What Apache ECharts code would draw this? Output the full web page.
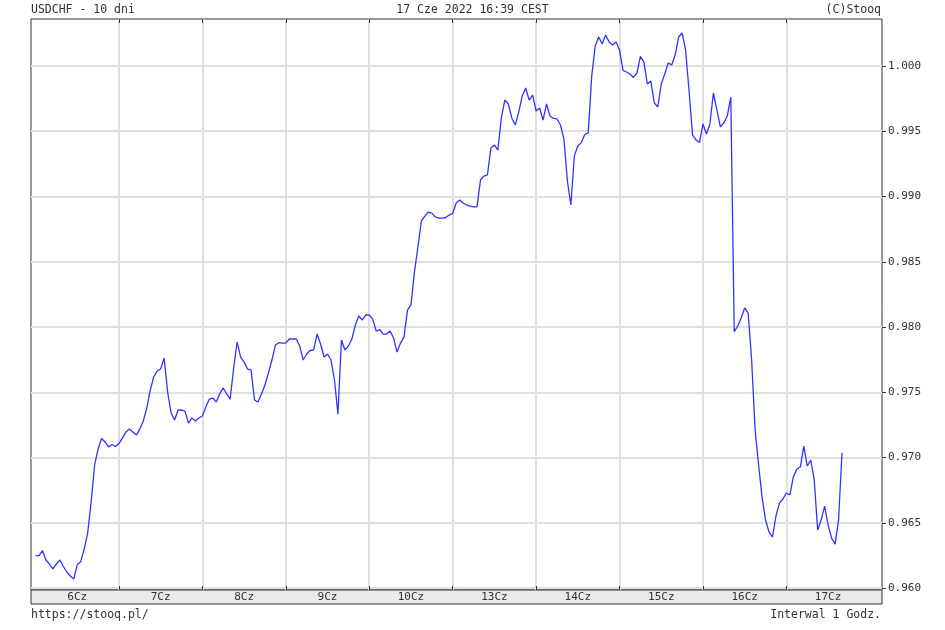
<!DOCTYPE html>
<html>
<head>
<meta charset="utf-8">
<script src="https://cdn.jsdelivr.net/npm/echarts@6/dist/echarts.min.js"></script>
<style>
html,body{margin:0;padding:0;background:#fff;}
#chart{width:945px;height:630px;}
</style>
</head>
<body>
<div id="chart"></div>
<script>
// ---- data ----
const dayLabels = ['6Cz','7Cz','8Cz','9Cz','10Cz','13Cz','14Cz','15Cz','16Cz','17Cz'];
// hourly USDCHF closes, one array per trading day (00:00 .. 23:00)
const day06 = [0.96248,0.96248,0.96286,0.96215,0.96184,0.96146,0.96184,0.96215,0.96165,0.96123,0.96092,0.96069,0.96180,0.96202,0.96299,0.96421,0.96659,0.96943,0.97065,0.97146,0.97119,0.97081,0.97100,0.97084];
const day07 = [0.97107,0.97149,0.97195,0.97218,0.97195,0.97172,0.97218,0.97280,0.97379,0.97517,0.97617,0.97663,0.97678,0.97762,0.97502,0.97341,0.97287,0.97364,0.97364,0.97356,0.97264,0.97303,0.97280,0.97303];
const day08 = [0.97318,0.97387,0.97448,0.97456,0.97425,0.97490,0.97533,0.97487,0.97448,0.97686,0.97885,0.97770,0.97732,0.97678,0.97671,0.97441,0.97425,0.97487,0.97556,0.97648,0.97747,0.97862,0.97880,0.97877];
const day09 = [0.97877,0.97908,0.97908,0.97908,0.97854,0.97747,0.97793,0.97820,0.97824,0.97946,0.97870,0.97770,0.97793,0.97747,0.97594,0.97333,0.97900,0.97824,0.97854,0.97908,0.98015,0.98084,0.98054,0.98092];
const day10 = [0.98092,0.98061,0.97969,0.97981,0.97946,0.97946,0.97969,0.97916,0.97808,0.97877,0.97923,0.98130,0.98169,0.98421,0.98613,0.98812,0.98850,0.98881,0.98873,0.98843,0.98835,0.98835,0.98839,0.98858];
const day13 = [0.98870,0.98950,0.98973,0.98950,0.98935,0.98927,0.98920,0.98920,0.99127,0.99157,0.99165,0.99372,0.99395,0.99356,0.99602,0.99739,0.99709,0.99602,0.99548,0.99647,0.99770,0.99831,0.99739,0.99777];
const day14 = [0.99655,0.99678,0.99586,0.99709,0.99617,0.99598,0.99594,0.99548,0.99441,0.99119,0.98935,0.99311,0.99387,0.99413,0.99475,0.99487,0.99924,1.00153,1.00222,1.00169,1.00238,1.00184,1.00161,1.00184];
const day15 = [1.00123,0.99966,0.99954,0.99939,0.99912,0.99946,1.00073,1.00031,0.99862,0.99885,0.99717,0.99686,0.99862,0.99939,1.00023,1.00008,1.00084,1.00222,1.00253,1.00123,0.99808,0.99471,0.99433,0.99414];
const day16 = [0.99556,0.99479,0.99556,0.99793,0.99663,0.99533,0.99563,0.99617,0.99762,0.97964,0.98008,0.98069,0.98146,0.98107,0.97747,0.97211,0.96943,0.96697,0.96521,0.96429,0.96391,0.96552,0.96651,0.96682];
const day17 = [0.96728,0.96713,0.96851,0.96912,0.96927,0.97088,0.96935,0.96981,0.96828,0.96444,0.96521,0.96628,0.96483,0.96383,0.96337,0.96521,0.97037];
const yTickValues = [0.960,0.965,0.970,0.975,0.980,0.985,0.990,0.995,1.000];
const dayBoundaryHours = [24,48,72,96,120,144,168,192,216];
const dayCenterHours = [12,36,60,84,108,132,156,180,204,228];

// ---- build ----
const closes = [].concat(day06,day07,day08,day09,day10,day13,day14,day15,day16,day17);
const seriesData = closes.map((v,i)=>[i,v]);

const X_MIN = -1.3, X_MAX = 243.5;
const Y_MIN = 0.95985, Y_MAX = 1.0036;
const MONO = '"DejaVu Sans Mono", "Liberation Mono", monospace';
const GRID_COLOR = '#e0e0e0';
const INK = '#333333';

const chart = echarts.init(document.getElementById('chart'), null, {renderer:'canvas'});
const txt = ()=>({fontFamily:MONO,fontSize:11.5,fontWeight:'normal',color:INK});
chart.setOption({
  animation:false,
  backgroundColor:'#ffffff',
  title:[
    {text:'USDCHF - 10 dni', left:31, top:4, padding:0, textStyle:txt()},
    {text:'17 Cze 2022 16:39 CEST', left:'center', top:4, padding:0, textStyle:txt()},
    {text:'(C)Stooq', right:64, top:4, padding:0, textStyle:txt()},
    {text:'https://stooq.pl/', left:31, top:609, padding:0, textStyle:txt()},
    {text:'Interwal 1 Godz.', right:64, top:609, padding:0, textStyle:txt()}
  ],
  grid:[
    {left:31, right:63, top:19, bottom:40, show:true, borderColor:INK, borderWidth:1, backgroundColor:'#ffffff', containLabel:false},
    {left:31, right:63, top:590, height:14, show:true, borderColor:INK, borderWidth:1, backgroundColor:'#e9e9e9', containLabel:false}
  ],
  xAxis:[
    {gridIndex:0, type:'value', min:X_MIN, max:X_MAX, position:'bottom',
     axisLine:{show:false, onZero:false},
     axisTick:{show:true, inside:true, length:4, customValues:dayBoundaryHours, lineStyle:{color:INK,width:1}},
     axisLabel:{show:false},
     splitLine:{show:true, lineStyle:{color:GRID_COLOR,width:2}}},
    {gridIndex:0, type:'value', min:X_MIN, max:X_MAX, position:'top',
     axisLine:{show:false, onZero:false},
     axisTick:{show:true, inside:true, length:4, customValues:dayBoundaryHours, lineStyle:{color:INK,width:1}},
     axisLabel:{show:false},
     splitLine:{show:false}},
    {gridIndex:1, type:'value', min:X_MIN, max:X_MAX, position:'bottom',
     axisLine:{show:false, onZero:false}, axisTick:{show:false}, splitLine:{show:false},
     axisLabel:{show:true, inside:true, margin:7, verticalAlign:'middle', customValues:dayCenterHours,
       fontFamily:MONO, fontSize:11, color:INK,
       formatter:(v)=>dayLabels[Math.round((v-12)/24)] || ''}}
  ],
  yAxis:[
    {gridIndex:0, type:'value', min:Y_MIN, max:Y_MAX, position:'right',
     axisLine:{show:false, onZero:false},
     axisTick:{show:true, inside:false, length:4, customValues:yTickValues, lineStyle:{color:INK,width:1}},
     axisLabel:{show:true, margin:6, customValues:yTickValues, fontFamily:MONO, fontSize:11, color:INK,
       formatter:(v)=>Number(v).toFixed(3)},
     splitLine:{show:true, lineStyle:{color:GRID_COLOR,width:2}}},
    {gridIndex:1, type:'value', min:0, max:1, show:false, axisLine:{onZero:false}}
  ],
  series:[{
    type:'line', xAxisIndex:0, yAxisIndex:0, data:seriesData,
    showSymbol:false, symbol:'none', smooth:false, silent:true,
    lineStyle:{color:'#3333ff', width:1.3}
  }]
});
</script>
</body>
</html>
